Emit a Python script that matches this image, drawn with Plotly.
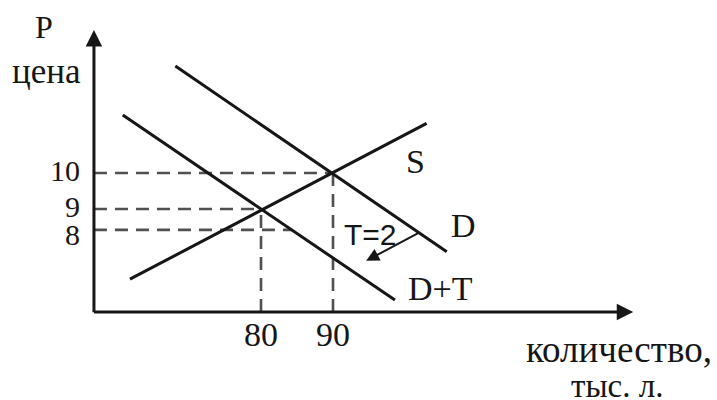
import plotly.graph_objects as go

# ---- data (schematic diagram units: quantity, price) ----
supply_q = [61.8, 103.0]
supply_p = [7.05, 11.38]
demand_q = [68.1, 105.8]          # upper line, labelled "D"
demand_p = [12.97, 7.81]
demand_tax_q = [60.8, 98.6]       # lower line, labelled "D+T"
demand_tax_p = [11.61, 6.47]

eq_quantities = [80, 90]
eq_prices = [9, 10]
quantity_tick_labels = ["80", "90"]

price_levels = [10, 9, 8.42]      # where the dashed price lines sit in the drawing
price_tick_labels = ["10", "9", "8"]
price_line_ends = [90, 80, 84.3]  # quantity where each dashed price line stops

axis_origin = (56.8, 6.14)
x_axis_end = 131.7
y_axis_end = 13.97

tax_label = "T=2"
tax_arrow_from = (102.1, 8.36)
tax_arrow_to = (94.6, 7.56)

black = "#161616"
dash_col = "#505050"
serif = "Liberation Serif, Times New Roman, serif"
sans = "Liberation Sans, Arial, sans-serif"

fig = go.Figure()

# dashed guides (horizontal)
for lvl, qend in zip(price_levels, price_line_ends):
    fig.add_trace(go.Scatter(x=[axis_origin[0], qend], y=[lvl, lvl], mode="lines",
                             line=dict(color=dash_col, width=2.6, dash="13px,8px"),
                             hoverinfo="skip", showlegend=False))
# dashed guides (vertical)
for q, p in zip(eq_quantities, eq_prices):
    fig.add_trace(go.Scatter(x=[q, q], y=[axis_origin[1], p], mode="lines",
                             line=dict(color=dash_col, width=2.6, dash="13px,8px"),
                             hoverinfo="skip", showlegend=False))

for qs, ps in [(supply_q, supply_p), (demand_q, demand_p), (demand_tax_q, demand_tax_p)]:
    fig.add_trace(go.Scatter(x=qs, y=ps, mode="lines",
                             line=dict(color=black, width=3),
                             hoverinfo="skip", showlegend=False))

anns = []
# axes with arrowheads
anns.append(dict(x=x_axis_end, y=axis_origin[1], ax=axis_origin[0] - 0.2, ay=axis_origin[1],
                 xref="x", yref="y", axref="x", ayref="y", showarrow=True, text="",
                 arrowhead=2, arrowsize=1.1, arrowwidth=3, arrowcolor=black))
anns.append(dict(x=axis_origin[0], y=y_axis_end, ax=axis_origin[0], ay=axis_origin[1] - 0.05,
                 xref="x", yref="y", axref="x", ayref="y", showarrow=True, text="",
                 arrowhead=2, arrowsize=1.1, arrowwidth=3, arrowcolor=black))
# tax arrow
anns.append(dict(x=tax_arrow_to[0], y=tax_arrow_to[1], ax=tax_arrow_from[0], ay=tax_arrow_from[1],
                 xref="x", yref="y", axref="x", ayref="y", showarrow=True, text="",
                 arrowhead=2, arrowsize=1.3, arrowwidth=2, arrowcolor=black))

# price tick labels
for lvl, lab in zip(price_levels, price_tick_labels):
    anns.append(dict(x=axis_origin[0] - 1.8, y=lvl, text=lab, showarrow=False,
                     xref="x", yref="y", xanchor="right", yanchor="middle",
                     yshift=-5 if lab == "8" else 3, borderpad=0,
                     font=dict(family=serif, size=30, color=black)))
# quantity tick labels
for q, lab in zip(eq_quantities, quantity_tick_labels):
    anns.append(dict(x=q, y=axis_origin[1], text=lab, showarrow=False,
                     xref="x", yref="y", xanchor="center", yanchor="top", yshift=-2,
                     font=dict(family=serif, size=34, color=black)))

def lab(x, y, t, size=34, fam=serif, xa="left", ya="middle", ys=0):
    anns.append(dict(x=x, y=y, text=t, showarrow=False, xref="paper", yref="paper",
                     xanchor=xa, yanchor=ya, yshift=ys, borderpad=0,
                     font=dict(family=fam, size=size, color=black)))

W, H = 717, 400
lab(44 / W, 1 - 27 / H, "P", 32, xa="center")
lab(46 / W, 1 - 71 / H, "цена", 35, xa="center")
lab(416 / W, 1 - 161 / H, "S", 34, xa="center")
lab(463 / W, 1 - 225 / H, "D", 34, xa="center")
lab(440 / W, 1 - 288 / H, "D+T", 34, xa="center")
lab(370 / W, 1 - 234 / H, tax_label, 30, fam=sans, xa="center")
lab(619 / W, 1 - 349 / H, "количество,", 37, xa="center")
lab(617 / W, 0, "тыс. л.", 33, xa="center", ya="bottom", ys=-5)

fig.update_layout(
    width=W, height=H, margin=dict(l=0, r=0, t=0, b=0),
    paper_bgcolor="white", plot_bgcolor="white",
    xaxis=dict(range=[43.75, 143.33], visible=False, fixedrange=True),
    yaxis=dict(range=[3.694, 14.806], visible=False, fixedrange=True),
    annotations=anns, showlegend=False,
)
fig.write_html("out.html", config={"displayModeBar": False},
               post_script="document.body.style.margin='0px';")
